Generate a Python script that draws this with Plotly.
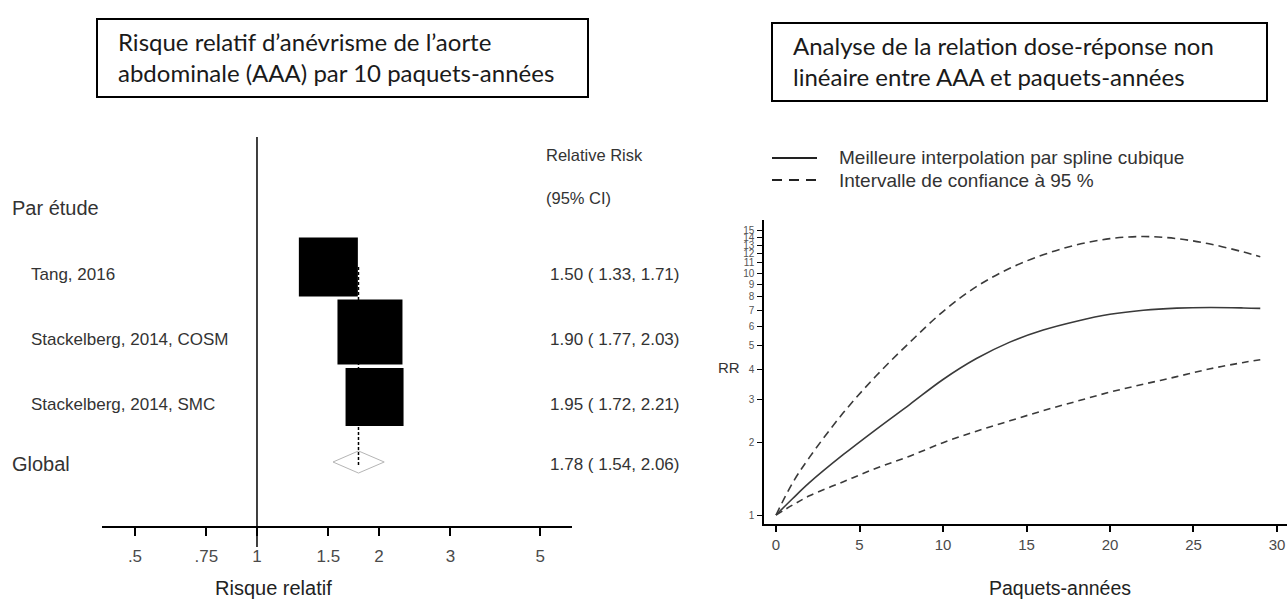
import plotly.graph_objects as go

W, H = 1287, 600

# ---- Forest plot: relative risk of AAA per 10 pack-years ----
studies = ["Tang, 2016", "Stackelberg, 2014, COSM", "Stackelberg, 2014, SMC"]
study_rr = [1.50, 1.90, 1.95]
study_lo = [1.33, 1.77, 1.72]
study_hi = [1.71, 2.03, 2.21]
pooled_label = "Global"
pooled_rr = 1.78
pooled_lo = 1.54
pooled_hi = 2.06
rr_ticks = [0.5, 0.75, 1, 1.5, 2, 3, 5]
rr_tick_text = [".5", ".75", "1", "1.5", "2", "3", "5"]

# ---- Non-linear dose-response (restricted cubic spline) ----
pack_years = [0, 1, 2, 4, 6, 8, 10, 12, 14, 16, 18, 20, 22, 24, 26, 28, 29]
rr_spline = [1.00, 1.17, 1.36, 1.77, 2.26, 2.86, 3.63, 4.43, 5.18, 5.81, 6.32,
             6.75, 7.02, 7.16, 7.20, 7.17, 7.14]
rr_upper = [1.00, 1.36, 1.73, 2.63, 3.76, 5.16, 6.93, 8.78, 10.46, 11.89, 13.07,
            13.87, 14.15, 13.87, 13.17, 12.21, 11.67]
rr_lower = [1.00, 1.10, 1.20, 1.37, 1.56, 1.75, 1.99, 2.22, 2.45, 2.70, 2.95,
            3.22, 3.47, 3.73, 4.02, 4.27, 4.38]
py_ticks = [0, 5, 10, 15, 20, 25, 30]
rr_axis_ticks = list(range(1, 16))


def fx(px):
    return px / W


def fy(py):
    return 1 - py / H


INK = "#222222"
TXT = "#333333"
TICK = "#4a4a4a"
ARIAL = "Liberation Sans, Arial, sans-serif"
TITLE_FONT = "Lato, Open Sans, sans-serif"

fig = go.Figure()

# rows: 0 = header, 1..n = studies, n+1 = pooled estimate
study_rows = list(range(1, len(studies) + 1))
pooled_row = len(studies) + 1

# reference line at RR = 1
fig.add_trace(go.Scatter(x=[1, 1], y=[-1.0, 5.31], mode="lines",
                         line=dict(color="black", width=1.5),
                         xaxis="x", yaxis="y", hoverinfo="skip"))

# pooled diamond
fig.add_trace(go.Scatter(
    x=[pooled_lo, pooled_rr, pooled_hi, pooled_rr, pooled_lo],
    y=[pooled_row, pooled_row - 0.17, pooled_row, pooled_row + 0.17, pooled_row],
    mode="lines", fill="toself", fillcolor="white",
    line=dict(color="#b5b5b5", width=1), xaxis="x", yaxis="y", hoverinfo="skip"))

# dashed line at the pooled estimate
fig.add_trace(go.Scatter(x=[pooled_rr, pooled_rr], y=[1, pooled_row + 0.06],
                         mode="lines",
                         line=dict(color="black", width=1.5, dash="3px,2px"),
                         xaxis="x", yaxis="y", hoverinfo="skip"))

# study confidence intervals
for r, lo, hi in zip(study_rows, study_lo, study_hi):
    fig.add_trace(go.Scatter(x=[lo, hi], y=[r, r], mode="lines",
                             line=dict(color="black", width=1),
                             xaxis="x", yaxis="y", hoverinfo="skip"))

# study weight boxes
box_px = [59, 65, 58]
fig.add_trace(go.Scatter(
    x=study_rr, y=study_rows, mode="markers",
    marker=dict(symbol="square", size=box_px, color="black", opacity=1,
                line=dict(width=0)),
    xaxis="x", yaxis="y", hoverinfo="skip"))

# dose-response curves
fig.add_trace(go.Scatter(x=pack_years, y=rr_upper, mode="lines",
                         line=dict(color="#3a3a3a", width=1.6, dash="8px,5px",
                                   shape="spline", smoothing=1.0),
                         xaxis="x2", yaxis="y2", hoverinfo="skip"))
fig.add_trace(go.Scatter(x=pack_years, y=rr_lower, mode="lines",
                         line=dict(color="#3a3a3a", width=1.6, dash="7px,5px",
                                   shape="spline", smoothing=1.0),
                         xaxis="x2", yaxis="y2", hoverinfo="skip"))
fig.add_trace(go.Scatter(x=pack_years, y=rr_spline, mode="lines",
                         line=dict(color="#3a3a3a", width=1.6,
                                   shape="spline", smoothing=1.0),
                         xaxis="x2", yaxis="y2", hoverinfo="skip"))

annotations = []
shapes = []


def note(text, x, y, size, xanchor="left", yref="paper", yshift=0,
         family=ARIAL, color=TXT, align="left"):
    annotations.append(dict(text=text, x=x, y=y, xref="paper", yref=yref,
                            xanchor=xanchor, yanchor="middle", yshift=yshift,
                            showarrow=False, align=align,
                            font=dict(family=family, size=size, color=color)))


# forest plot text
note("Par étude", fx(10), 0, 20, yref="y", yshift=-6)
for r, name, rr, lo, hi in zip(study_rows, studies, study_rr, study_lo, study_hi):
    note(name, fx(29), r, 17, yref="y", yshift=-7)
    note(f"{rr:.2f} ( {lo:.2f}, {hi:.2f})", fx(548), r, 17, yref="y", yshift=-7)
note(pooled_label, fx(10), pooled_row, 20, yref="y", yshift=-2)
note(f"{pooled_rr:.2f} ( {pooled_lo:.2f}, {pooled_hi:.2f})", fx(548), pooled_row,
     17, yref="y", yshift=-2)
note("Relative Risk", fx(544), fy(155), 16.5)
note("(95% CI)", fx(544), fy(198), 16.5)
note("Risque relatif", fx(273), fy(588), 20, xanchor="center", color="#222")

# dose-response text
note("RR", fx(729), fy(367), 15, xanchor="center")
note("Paquets-années", fx(1060), fy(588), 19.5, xanchor="center", color="#222")
note("Meilleure interpolation par spline cubique", fx(837), fy(158), 19)
note("Intervalle de confiance à 95 %", fx(837), fy(180), 19)
shapes.append(dict(type="line", xref="paper", yref="paper",
                   x0=fx(772), x1=fx(817), y0=fy(158), y1=fy(158),
                   line=dict(color=INK, width=2)))
shapes.append(dict(type="line", xref="paper", yref="paper",
                   x0=fx(772), x1=fx(817), y0=fy(180), y1=fy(180),
                   line=dict(color=INK, width=2, dash="10px,7px")))

# panel headings in framed boxes
shapes.append(dict(type="rect", xref="paper", yref="paper",
                   x0=fx(97), x1=fx(588), y0=fy(97), y1=fy(19),
                   line=dict(color="black", width=2), fillcolor="rgba(0,0,0,0)"))
shapes.append(dict(type="rect", xref="paper", yref="paper",
                   x0=fx(772), x1=fx(1267), y0=fy(101), y1=fy(23),
                   line=dict(color="black", width=2), fillcolor="rgba(0,0,0,0)"))
note("Risque relatif d’anévrisme de l’aorte<br>abdominale (AAA) par 10 paquets-années",
     fx(116), fy(57), 24, family=TITLE_FONT, color="#1a1a1a")
note("Analyse de la relation dose-réponse non<br>linéaire entre AAA et paquets-années",
     fx(791), fy(61), 24, family=TITLE_FONT, color="#1a1a1a")

fig.update_layout(
    width=W, height=H,
    margin=dict(l=0, r=0, t=0, b=0),
    paper_bgcolor="white", plot_bgcolor="white",
    showlegend=False,
    xaxis=dict(type="log", domain=[fx(102), fx(572)], range=[-0.3824, 0.7772],
               anchor="free", position=fy(527),
               showline=True, linecolor="black", linewidth=1.5,
               ticks="outside", ticklen=8, tickwidth=1.5, tickcolor="black",
               tickvals=rr_ticks, ticktext=rr_tick_text, ticklabelstandoff=6,
               tickfont=dict(family=ARIAL, size=17, color=TICK),
               showgrid=False, zeroline=False),
    yaxis=dict(domain=[fy(547), fy(137)], range=[5.3077, -1.0], visible=False,
               showgrid=False, zeroline=False),
    xaxis2=dict(domain=[fx(764), 1.0], range=[-0.72, 30.6], anchor="y2",
                showline=True, linecolor="black", linewidth=1.5,
                ticks="outside", ticklen=6, tickwidth=1.5, tickcolor="black",
                tickvals=py_ticks, ticklabelstandoff=0,
                tickfont=dict(family=ARIAL, size=15, color=TICK),
                showgrid=False, zeroline=False),
    yaxis2=dict(type="log", domain=[fy(524), fy(220)], range=[-0.0372, 1.219],
                anchor="x2", showline=True, linecolor="black", linewidth=1.5,
                ticks="outside", ticklen=5, tickwidth=1.2, tickcolor="black",
                tickvals=rr_axis_ticks, ticklabelstandoff=1,
                tickfont=dict(family=ARIAL, size=10, color="#555"),
                showgrid=False, zeroline=False),
    annotations=annotations,
    shapes=shapes,
)

fig.write_html("out.html")
